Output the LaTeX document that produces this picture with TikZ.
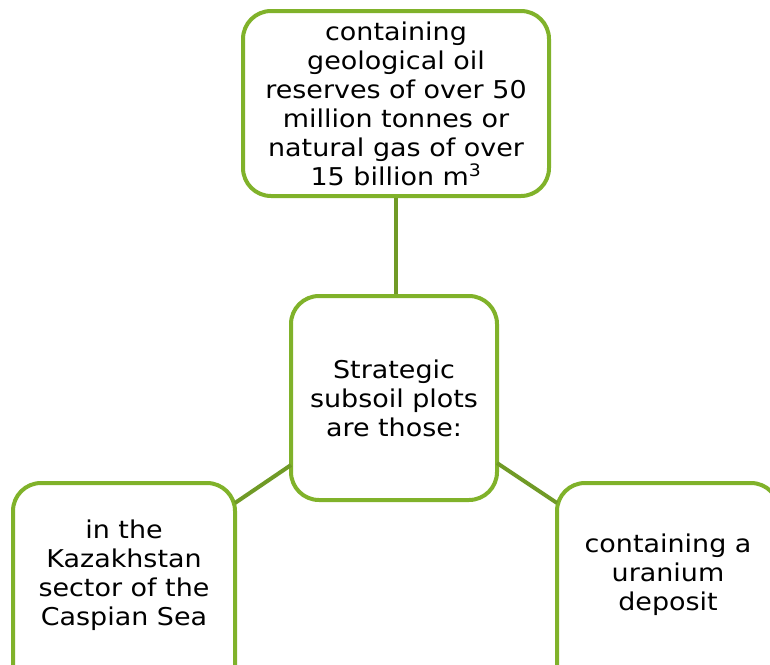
\documentclass[tikz,border=0pt]{standalone}
\usepackage{fontspec}
\setmainfont{DejaVu Sans}[FakeStretch=1.1]
\definecolor{boxgreen}{RGB}{128,178,42}
\definecolor{linegreen}{RGB}{112,154,38}
\tikzset{
  box/.style={draw=boxgreen, line width=4pt, rounded corners=28pt, fill=white,
    inner sep=0pt},
  label text/.style={align=center, inner sep=0pt, font=\fontsize{24.5}{29}\selectfont, text=black},
  link/.style={draw=linegreen, line width=4pt}
}
\begin{document}
\begin{tikzpicture}[x=1pt,y=-1pt]
\useasboundingbox (0,0) rectangle (770,664);
\clip (0,0) rectangle (770,664);
\node[box, minimum width=306pt, minimum height=185pt] (top) at (396,103.5) {};
\node[label text] (toptext) at (396,104)
  {containing\\geological oil\\reserves of over 50\\million tonnes or\\natural gas of over\\15 billion m\textsuperscript{3}};
\node[box, minimum width=206pt, minimum height=204pt] (mid) at (394,398) {};
\node[label text] (midtext) at (394,398) {Strategic\\subsoil plots\\are those:};
\node[box, minimum width=222pt, minimum height=214pt] (left) at (124,590) {};
\node[label text] (lefttext) at (124,575) {in the\\Kazakhstan\\sector of the\\Caspian Sea};
\node[box, minimum width=222pt, minimum height=214pt] (right) at (668,590) {};
\node[label text] (righttext) at (668,575) {containing a\\uranium\\deposit};
\coordinate (ml) at (291,465);
\coordinate (lr) at (235,503);
\coordinate (mr) at (497,463);
\coordinate (rl) at (557,503);
\draw[link] (top.south) -- (mid.north -| top.south);
\draw[link] (ml) -- (lr);
\draw[link] (mr) -- (rl);
\end{tikzpicture}
\end{document}
